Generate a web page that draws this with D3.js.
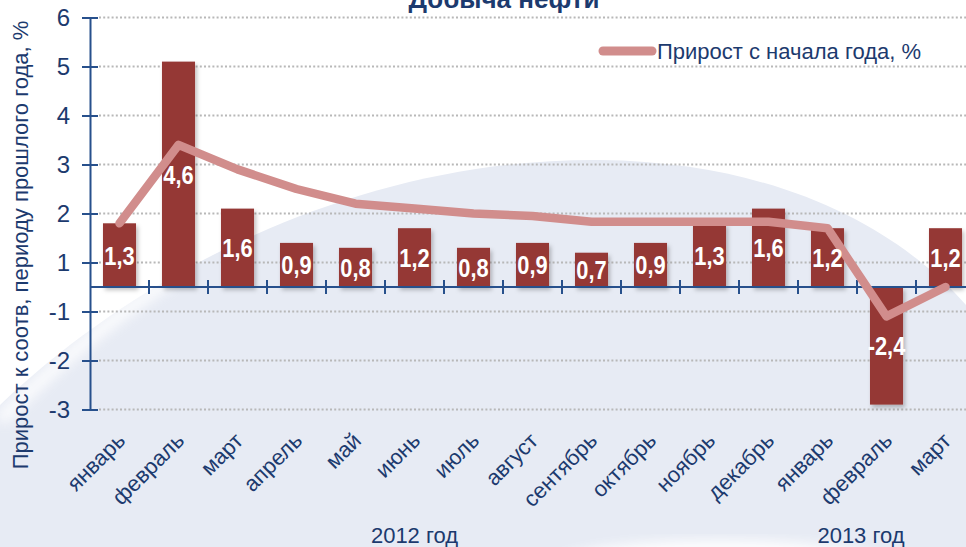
<!DOCTYPE html>
<html>
<head>
<meta charset="utf-8">
<title>Добыча нефти</title>
<script src="https://d3js.org/d3.v7.min.js"></script>
<style>
  body { margin: 0; background: #fff; }
  svg { display: block; font-family: "Liberation Sans", Arial, sans-serif; }
</style>
</head>
<body>
<svg id="chart"></svg>
<script>
  // месяцы (2012 - март 2013)
  const months = ["январь", "февраль", "март", "апрель", "май", "июнь", "июль",
    "август", "сентябрь", "октябрь", "ноябрь", "декабрь", "январь", "февраль", "март"];
  // прирост к соотв. периоду прошлого года, %
  const monthly = [1.3, 4.6, 1.6, 0.9, 0.8, 1.2, 0.8, 0.9, 0.7, 0.9, 1.3, 1.6, 1.2, -2.4, 1.2];
  // прирост с начала года, %
  const ytd = [1.3, 2.9, 2.4, 2.0, 1.7, 1.6, 1.5, 1.45, 1.33, 1.33, 1.33, 1.33, 1.2, -0.6, 0.0];
  const years = ["2012 год", "2013 год"];
  // на оси нет нуля: подписи сдвинуты на полделения
  const yTicks = [5.5, 4.5, 3.5, 2.5, 1.5, 0.5, -0.5, -1.5, -2.5];
  const yTickLabels = ["6", "5", "4", "3", "2", "1", "-1", "-2", "-3"];

  const W = 966, H = 547;
  const navy = "#1c3a6e", axisCol = "#27508c";
  const svg = d3.select("#chart").attr("width", W).attr("height", H);

  // фон
  const defs = svg.append("defs");
  defs.append("filter").attr("id", "blur").append("feGaussianBlur").attr("stdDeviation", 6);
  const sh = defs.append("filter").attr("id", "shadow")
    .attr("x", "-20%").attr("y", "-20%").attr("width", "150%").attr("height", "150%");
  sh.append("feDropShadow").attr("dx", 2).attr("dy", 3).attr("stdDeviation", 2)
    .attr("flood-color", "#000").attr("flood-opacity", 0.25);

  svg.append("rect").attr("width", W).attr("height", H).attr("fill", "#fff");
  svg.append("path")
    .attr("d", "M0,405 C130,280 350,158 600,160 C780,162 900,230 966,305 L966,547 L0,547 Z")
    .attr("fill", "#e7ebf4");
  svg.append("path")
    .attr("d", "M0,420 C60,360 110,320 170,280")
    .attr("fill", "none").attr("stroke", "#fff").attr("stroke-width", 14)
    .attr("opacity", 0.8).attr("filter", "url(#blur)");
  svg.append("ellipse").attr("cx", 720).attr("cy", 566).attr("rx", 170).attr("ry", 26)
    .attr("fill", "#fff").attr("opacity", 0.9).attr("filter", "url(#blur)");

  const x = d3.scaleBand().domain(d3.range(months.length))
    .range([90, 975]).paddingInner(0.44).paddingOuter(0.22);
  const y = d3.scaleLinear().domain([-2.5, 5.5]).range([409.5, 17.5]);
  const cx = i => x(i) + x.bandwidth() / 2;

  // сетка
  svg.append("g").selectAll("line").data(yTicks).join("line")
    .attr("x1", 99).attr("x2", W)
    .attr("y1", d => y(d)).attr("y2", d => y(d))
    .attr("stroke", "#b8b8b8").attr("stroke-width", 2).attr("stroke-dasharray", "2,2.2");

  // столбцы
  svg.append("g").selectAll("rect").data(monthly).join("rect")
    .attr("x", (d, i) => x(i)).attr("width", x.bandwidth())
    .attr("y", d => y(Math.max(0, d)))
    .attr("height", d => Math.abs(y(d) - y(0)))
    .attr("fill", "#953735").attr("filter", "url(#shadow)");

  // оси
  const yAxis = svg.append("g").attr("transform", "translate(90,0)")
    .call(d3.axisLeft(y).tickValues(yTicks).tickFormat((d, i) => yTickLabels[i])
      .tickSizeInner(8).tickSizeOuter(0).tickPadding(12));
  yAxis.select(".domain").attr("stroke", axisCol).attr("stroke-width", 2);
  yAxis.selectAll(".tick line").attr("x1", 8).attr("stroke", axisCol).attr("stroke-width", 2);
  yAxis.selectAll(".tick text").attr("fill", navy).attr("font-size", 24)
    .attr("font-family", "Liberation Sans, Arial, sans-serif");

  const bounds = d3.range(1, months.length + 1).map(i => x.range()[0] + i * x.step());
  const xAxis = svg.append("g");
  xAxis.append("line").attr("x1", 90).attr("x2", W).attr("y1", y(0)).attr("y2", y(0))
    .attr("stroke", axisCol).attr("stroke-width", 2);
  xAxis.selectAll(".tk").data(bounds).join("line").attr("class", "tk")
    .attr("x1", d => d).attr("x2", d => d)
    .attr("y1", y(0) - 7).attr("y2", y(0) + 7)
    .attr("stroke", axisCol).attr("stroke-width", 2);

  // подписи месяцев
  svg.append("g").selectAll("text").data(months).join("text")
    .attr("transform", (d, i) => `translate(${cx(i) + 7},${y(0) + 155}) rotate(-45)`)
    .attr("text-anchor", "end").attr("fill", navy).attr("font-size", 22)
    .text(d => d);

  svg.append("text").attr("x", cx(5)).attr("y", 543).attr("text-anchor", "middle")
    .attr("fill", navy).attr("font-size", 22).text(years[0]);
  svg.append("text").attr("x", x(13) - x.step() * 0.22 + 4).attr("y", 543).attr("text-anchor", "middle")
    .attr("fill", navy).attr("font-size", 22).text(years[1]);

  // линия
  const line = d3.line().x((d, i) => cx(i)).y(d => y(d));
  svg.append("path").datum(ytd).attr("d", line)
    .attr("fill", "none").attr("stroke", "#d18d8c").attr("stroke-width", 8.5)
    .attr("stroke-linecap", "round").attr("stroke-linejoin", "round");

  // подписи значений (узкий шрифт — сжатие по горизонтали)
  svg.append("g").selectAll("text").data(monthly).join("text")
    .attr("transform", (d, i) => `translate(${cx(i)},${(y(d) + y(0)) / 2}) scale(0.84,1)`)
    .attr("dy", "0.36em").attr("text-anchor", "middle")
    .attr("fill", "#fff").attr("font-weight", "bold").attr("font-size", 26)
    .text(d => d.toFixed(1).replace(".", ","));

  // легенда
  svg.append("line").attr("x1", 603).attr("x2", 652).attr("y1", 51).attr("y2", 51)
    .attr("stroke", "#d18d8c").attr("stroke-width", 9).attr("stroke-linecap", "round");
  svg.append("text").attr("x", 657).attr("y", 51).attr("dy", "0.36em")
    .attr("fill", navy).attr("font-size", 22).text("Прирост с начала года, %");

  // заголовок оси Y
  svg.append("text").attr("transform", "translate(28,245) rotate(-90)")
    .attr("text-anchor", "middle").attr("fill", navy).attr("font-size", 22)
    .text("Прирост к соотв, периоду прошлого года, %");

  // заголовок (обрезан сверху, как в оригинале)
  svg.append("text").attr("x", 504).attr("y", 8).attr("text-anchor", "middle")
    .attr("fill", navy).attr("font-weight", "bold").attr("font-size", 26)
    .text("Добыча нефти");
</script>
</body>
</html>
